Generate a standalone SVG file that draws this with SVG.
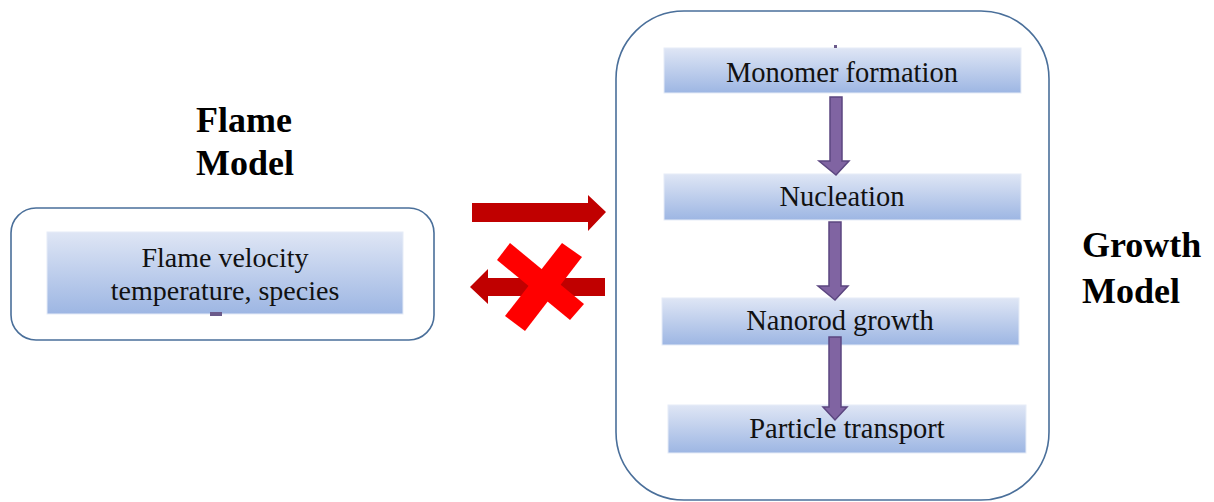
<svg xmlns="http://www.w3.org/2000/svg" width="1214" height="502" viewBox="0 0 1214 502">
<defs>
<linearGradient id="g" x1="0" y1="0" x2="0" y2="1">
<stop offset="0" stop-color="#DFE6F5"/>
<stop offset="1" stop-color="#9DB6E3"/>
</linearGradient>
<style>
.frame{fill:#fff;stroke:#4A6F9A;stroke-width:1.6}
.step{fill:url(#g);stroke:#E6ECF7;stroke-width:1}
.txt{font-family:"Liberation Serif","Times New Roman",serif;font-size:28.5px;fill:#111;text-anchor:middle}
.ltxt{font-size:28px}
.title{font-family:"Liberation Serif","Times New Roman",serif;font-size:36px;font-weight:bold;fill:#000}
.parrow{fill:#8064A2;stroke:#5B4680;stroke-width:1.5}
.rarrow{fill:#C00000}
.cross{fill:#FF0000}
</style>
</defs>
<rect width="1214" height="502" fill="#fff"/>

<g id="flame-model">
<text class="title" x="196" y="132">Flame</text>
<text class="title" x="196" y="175">Model</text>
</g>

<g id="flame-box">
<rect class="frame" x="11" y="208" width="423" height="132" rx="25"/>
<rect class="step" x="47" y="232" width="356" height="82"/>
<text class="txt ltxt" x="225" y="267">Flame velocity</text>
<text class="txt ltxt" x="225" y="300">temperature, species</text>
<rect x="210" y="312" width="12" height="4" fill="#6B5A8A"/>
</g>

<g id="growth-box">
<rect class="frame" x="616" y="11" width="433" height="489" rx="68"/>
</g>

<g id="monomer">
<rect class="step" x="664" y="48" width="357" height="45"/>
<rect x="834" y="45" width="3" height="3" fill="#6B5A8A"/>
<text class="txt" x="842" y="82">Monomer formation</text>
</g>
<g id="nucleation">
<rect class="step" x="664" y="174" width="357" height="46"/>
<text class="txt" x="842" y="206">Nucleation</text>
</g>
<g id="nanorod">
<rect class="step" x="662" y="298" width="357" height="47"/>
<text class="txt" x="840" y="330">Nanorod growth</text>
</g>
<g id="transport">
<rect class="step" x="668" y="405" width="358" height="48"/>
<text class="txt" x="847" y="438">Particle transport</text>
</g>

<g id="growth-model">
<text class="title" x="1082" y="257">Growth</text>
<text class="title" x="1082" y="303">Model</text>
</g>

<g id="connectors">
<polygon class="parrow" points="830,97 842,97 842,161 849,161 836,175 819,161 830,161"/>
<polygon class="parrow" points="829,222 841,222 841,286 848,286 835,300 818,286 829,286"/>
<polygon class="parrow" points="829,337 841,337 841,407 847,407 835,420 823,407 829,407"/>
<polygon class="rarrow" points="472,203 588,203 588,195 606,212 588,231 588,222 472,222"/>
<polygon class="rarrow" points="605,278 488,278 488,269 470,287 488,304 488,296 605,296"/>
<polygon class="cross" points="510,243 584,304 570,320 497,260"/>
<polygon class="cross" points="562,243 582,257 525,331 505,316"/>
</g>
</svg>
